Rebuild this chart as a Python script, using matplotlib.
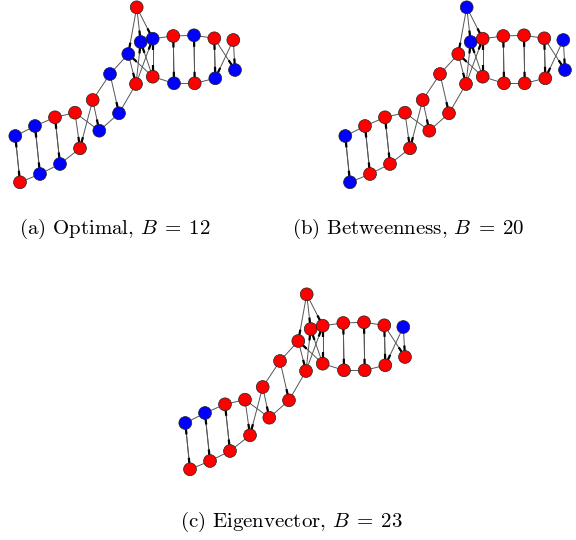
import numpy as np
import matplotlib
matplotlib.use("Agg")
import matplotlib.pyplot as plt

plt.rcParams["font.family"] = "serif"
plt.rcParams["font.serif"] = ["cmr10", "DejaVu Serif"]
plt.rcParams["mathtext.fontset"] = "cm"
plt.rcParams["axes.formatter.use_mathtext"] = True

# node layout, nodes numbered 1..26
node_x = [136.7, 140.7, 152.7, 128.3, 173.3, 194.0, 214.3, 233.3, 235.0, 215.3,
          194.7, 174.0, 152.7, 136.0, 110.0, 92.7, 119.0, 99.3, 75.0, 55.0,
          35.0, 15.3, 20.0, 40.0, 60.0, 80.0]
node_y = [7.3, 42.0, 38.7, 54.0, 36.0, 35.3, 38.3, 40.0, 70.0, 78.3,
          83.3, 83.3, 76.7, 84.0, 74.0, 100.0, 113.3, 130.7, 112.7, 117.3,
          126.0, 136.0, 182.3, 174.0, 164.0, 148.3]

# plain links (no arrow drawn)
links = [(3, 5), (5, 6), (6, 7), (13, 12), (12, 11), (11, 10),
         (22, 21), (21, 20), (20, 19), (23, 24), (24, 25), (25, 26),
         (19, 18), (17, 18), (17, 14), (15, 16), (4, 15)]

# directed arcs (source, target)
arcs = [(1, 2), (1, 3), (1, 4), (14, 2), (13, 2), (14, 3), (13, 3), (3, 13),
        (13, 4), (4, 14), (15, 17), (16, 18), (16, 26), (19, 26),
        (22, 23), (23, 22), (21, 24), (24, 21), (20, 25), (25, 20),
        (5, 12), (12, 5), (6, 11), (11, 6), (7, 10), (10, 7),
        (7, 9), (8, 10), (8, 9)]

# blue nodes in each panel, the rest are red
blue_a = [2, 3, 4, 6, 9, 10, 12, 15, 17, 18, 21, 22, 24, 25]
blue_b = [1, 2, 8, 9, 22, 23]
blue_c = [8, 21, 22]

captions = [r"(a) Optimal, $B\;=\:12$", r"(b) Betweenness, $B\;=\:20$",
            r"(c) Eigenvector, $B\;=\:23$"]

W, H = 576, 540
fig = plt.figure(figsize=(W / 100, H / 100), dpi=100)


def draw_graph(ax, blue):
    xs = np.array(node_x)
    ys = np.array(node_y)
    for u, v in links:
        ax.plot([xs[u - 1], xs[v - 1]], [ys[u - 1], ys[v - 1]],
                color="#555555", lw=0.7, zorder=1)
    r, alen = 6.0, 5.5
    for u, v in arcs:
        x0, y0, x1, y1 = xs[u - 1], ys[u - 1], xs[v - 1], ys[v - 1]
        ax.plot([x0, x1], [y0, y1], color="#555555", lw=0.7, zorder=1)
        d = np.hypot(x1 - x0, y1 - y0)
        ux, uy = (x1 - x0) / d, (y1 - y0) / d
        ax.plot([x1 - ux * r, x1 - ux * (r + alen)],
                [y1 - uy * r, y1 - uy * (r + alen)],
                color="black", lw=1.6, solid_capstyle="butt", zorder=2)
    colors = ["#0000ff" if i + 1 in blue else "#ff0000" for i in range(len(xs))]
    ax.scatter(xs, ys, s=85, c=colors, edgecolors="#222222", linewidths=0.5, zorder=3)


# panel boxes in figure pixels: left, top, width, height
boxes = [(0, 0, 250, 195), (330, 0, 246, 195), (170, 287, 250, 195)]
for (left, top, w, h), blue in zip(boxes, [blue_a, blue_b, blue_c]):
    ax = fig.add_axes([left / W, 1 - (top + h) / H, w / W, h / H])
    draw_graph(ax, blue)
    ax.set_xlim(0, w)
    ax.set_ylim(h, 0)
    ax.axis("off")

for (cx, cy), txt in zip([(115, 229), (408, 229), (291, 522)], captions):
    fig.text(cx / W, 1 - cy / H, txt, ha="center", va="center", fontsize=15)

fig.savefig("out.png", dpi=100)
